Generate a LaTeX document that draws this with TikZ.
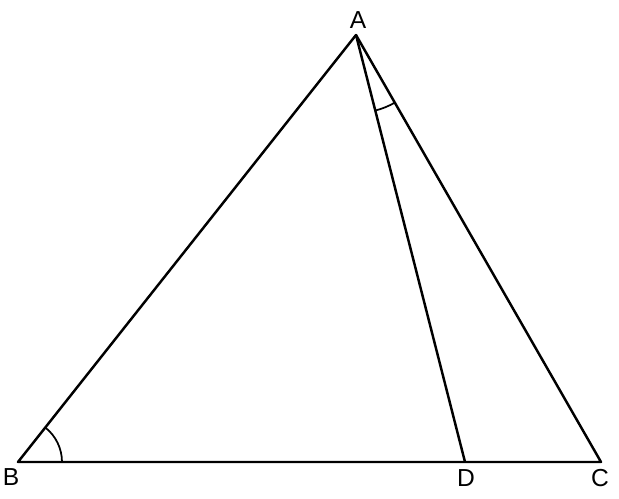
\documentclass[tikz,border=0pt]{standalone}
\usepackage{fontspec}
\setmainfont{Liberation Sans}
\usetikzlibrary{angles,positioning}
\tikzstyle{side} = [line width=1.4pt, line join=round]
\tikzstyle{anglemark} = [draw, line width=1pt]
\tikzstyle{vlabel} = [font=\fontsize{14}{16}\selectfont, inner sep=0pt]

\begin{document}
\begin{tikzpicture}[x=0.02cm, y=-0.02cm]
\useasboundingbox (0,0) rectangle (619,499);
\coordinate (A) at (356,35);
\coordinate (B) at (18,462);
\coordinate (C) at (601,462);
\coordinate (D) at (465,462);
\draw[side] (A) -- (B) -- (C) -- cycle;
\draw[side] (A) -- (D);
% angle marks
\pic[anglemark, angle radius=0.88cm] {angle = C--B--A};
\pic[anglemark, angle radius=1.56cm] {angle = D--A--C};
\node[vlabel] (lA) at (358,20) {A};
\node[vlabel] (lB) at (11,477) {B};
\node[vlabel] (lD) at (466,478) {D};
\node[vlabel] (lC) at (600,478) {C};
\end{tikzpicture}
\end{document}
